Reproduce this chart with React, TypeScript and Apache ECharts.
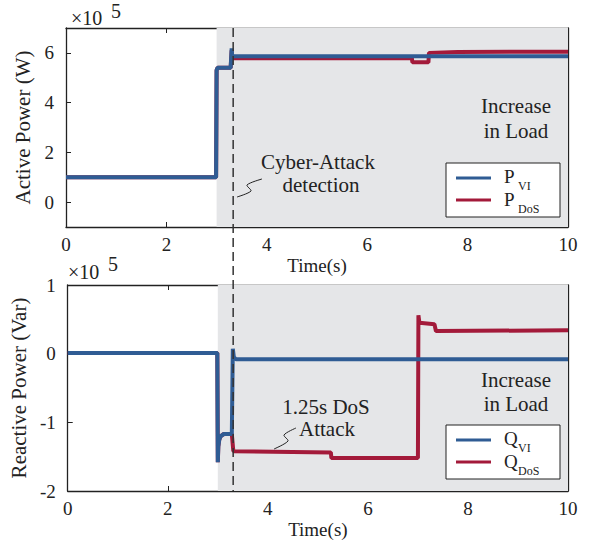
import React, { useEffect, useRef } from "react";
import * as echarts from "echarts";

// ---- Data (values in ×10^5) ----
const pVI_t = [0, 2.99, 3.0, 3.02, 3.28, 3.3, 3.31, 3.34, 10];
const pVI_v = [1.0, 1.0, 5.3, 5.4, 5.4, 6.18, 5.9, 5.86, 5.86];

const pDoS_t = [0, 2.99, 3.0, 3.02, 3.28, 3.3, 3.31, 3.34, 6.89, 6.9, 7.22, 7.23, 7.8, 10];
const pDoS_v = [1.0, 1.0, 5.3, 5.4, 5.4, 6.1, 5.85, 5.78, 5.78, 5.62, 5.62, 6.0, 6.04, 6.05];

const qVI_t = [0, 2.99, 3.0, 3.01, 3.03, 3.06, 3.12, 3.28, 3.3, 3.32, 3.36, 10];
const qVI_v = [0.01, 0.01, -1.58, -1.35, -1.25, -1.2, -1.17, -1.17, 0.07, -0.05, -0.08, -0.08];

const qDoS_t = [0, 2.99, 3.0, 3.01, 3.03, 3.06, 3.12, 3.28, 3.31, 5.26, 5.27, 7.0, 7.01, 7.03, 7.33, 7.36, 10];
const qDoS_v = [0.01, 0.01, -1.58, -1.35, -1.25, -1.2, -1.17, -1.17, -1.42, -1.44, -1.52, -1.52, 0.56, 0.45, 0.43, 0.33, 0.34];

const pTicks = [0, 2, 4, 6];
const qTicks = [-2, -1, 0, 1];
const attackStart = 3.0;
const detectionTime = 3.33;

const FONT = "Liberation Serif";
const BLUE = "#2f5c94";
const RED = "#a31a3a";
const SHADE = "#e5e6e8";
const INK = "#222";

const zip = (t: number[], v: number[]) => t.map((x, i) => [x, v[i]]);

function xAx(grid: number, pos: "bottom" | "top") {
  return {
    type: "value",
    gridIndex: grid,
    position: pos,
    min: 0,
    max: 10,
    interval: 2,
    axisLine: { show: true, onZero: false, lineStyle: { color: INK, width: 1.3 } },
    axisTick: { show: true, inside: true, length: 5, lineStyle: { color: INK } },
    axisLabel: pos === "bottom"
      ? { show: true, fontFamily: FONT, fontSize: 19, color: INK, margin: 8 }
      : { show: false },
    splitLine: { show: false },
    name: pos === "bottom" ? "Time(s)" : "",
    nameLocation: "middle",
    nameGap: 29,
    nameTextStyle: { fontFamily: FONT, fontSize: 19, color: INK },
  };
}

function yAx(grid: number, pos: "left" | "right", min: number, max: number, ticks: number[], name: string) {
  return {
    type: "value",
    gridIndex: grid,
    position: pos,
    min,
    max,
    axisLine: { show: true, onZero: false, lineStyle: { color: INK, width: 1.3 } },
    axisTick: { show: true, inside: true, length: 5, customValues: ticks, lineStyle: { color: INK } },
    axisLabel: pos === "left"
      ? { show: true, customValues: ticks, fontFamily: FONT, fontSize: 19, color: INK, margin: 12 }
      : { show: false, customValues: ticks },
    splitLine: { show: false },
    name: pos === "left" ? name : "",
    nameLocation: "middle",
    nameGap: 30,
    nameTextStyle: { fontFamily: FONT, fontSize: 21, color: INK },
  };
}

function lineSeries(name: string, data: number[][], color: string, axis: number, shade: boolean) {
  const s: any = {
    name,
    type: "line",
    xAxisIndex: axis,
    yAxisIndex: axis,
    data,
    showSymbol: false,
    symbol: "none",
    lineStyle: { color, width: 4 },
    itemStyle: { color },
  };
  if (shade) {
    s.markArea = {
      silent: true,
      itemStyle: { color: SHADE },
      data: [[{ xAxis: attackStart }, { xAxis: 10 }]],
    };
  }
  return s;
}

function legendBox(x: number, y: number, letter: string, sub1: string, sub2: string) {
  const big = { fontFamily: FONT, fontSize: 19, fill: INK, verticalAlign: "middle" };
  const small = { fontFamily: FONT, fontSize: 12, fill: INK, verticalAlign: "middle" };
  return [
    { type: "rect", shape: { x, y, width: 114, height: 54 }, style: { fill: "#fff", stroke: INK, lineWidth: 1 }, z: 50 },
    { type: "line", shape: { x1: x + 10, y1: y + 15, x2: x + 45, y2: y + 15 }, style: { stroke: BLUE, lineWidth: 3 }, z: 51 },
    { type: "line", shape: { x1: x + 10, y1: y + 37, x2: x + 45, y2: y + 37 }, style: { stroke: RED, lineWidth: 3 }, z: 51 },
    { type: "text", x: x + 58, y: y + 13, style: { ...big, text: letter }, z: 51 },
    { type: "text", x: x + 72, y: y + 23, style: { ...small, text: sub1 }, z: 51 },
    { type: "text", x: x + 58, y: y + 36, style: { ...big, text: letter }, z: 51 },
    { type: "text", x: x + 72, y: y + 46, style: { ...small, text: sub2 }, z: 51 },
  ];
}

function txt(x: number, y: number, text: string, size = 20, align = "center") {
  return { type: "text", x, y, style: { text, fontFamily: FONT, fontSize: size, fill: INK, align, verticalAlign: "middle" }, z: 40 };
}

export default function App() {
  const ref = useRef<HTMLDivElement>(null);
  useEffect(() => {
    document.body.style.margin = "0";
    if (!ref.current) return;
    const chart = echarts.init(ref.current, undefined, { renderer: "svg" });
    chart.setOption({
      animation: false,
      grid: [
        { left: 66, right: 27, top: 28, height: 199 },
        { left: 66, right: 27, top: 285, height: 208 },
      ],
      xAxis: [xAx(0, "bottom"), xAx(0, "top"), xAx(1, "bottom"), xAx(1, "top")],
      yAxis: [
        yAx(0, "left", -1, 7, pTicks, "Active Power (W)"),
        yAx(0, "right", -1, 7, pTicks, ""),
        yAx(1, "left", -2, 1, qTicks, "Reactive Power (Var)"),
        yAx(1, "right", -2, 1, qTicks, ""),
      ],
      series: [
        lineSeries("P_DoS", zip(pDoS_t, pDoS_v), RED, 0, true),
        lineSeries("P_VI", zip(pVI_t, pVI_v), BLUE, 0, false),
        lineSeries("Q_DoS", zip(qDoS_t, qDoS_v), RED, 2, true),
        lineSeries("Q_VI", zip(qVI_t, qVI_v), BLUE, 2, false),
      ],
    });
    const dx = chart.convertToPixel({ xAxisIndex: 0 }, detectionTime) as number;
    const yTop = chart.convertToPixel({ yAxisIndex: 0 }, 7) as number;
    const yBot = chart.convertToPixel({ yAxisIndex: 2 }, -2) as number;
    chart.setOption({
      graphic: [
        { type: "line", shape: { x1: dx, y1: yTop, x2: dx, y2: yBot }, style: { stroke: "#333", lineWidth: 1.5, lineDash: [9, 5] }, z: 30 },
        txt(71, 18, "×10", 20, "left"),
        txt(111, 11, "5", 20, "left"),
        txt(68, 272, "×10", 20, "left"),
        txt(108, 264, "5", 20, "left"),
        txt(516, 106, "Increase", 21),
        txt(516, 131, "in Load", 21),
        txt(516, 380, "Increase", 21),
        txt(516, 404, "in Load", 21),
        txt(318, 162, "Cyber-Attack", 21),
        txt(321, 185, "detection", 21),
        txt(326, 407, "1.25s DoS", 21),
        txt(327, 429, "Attack", 21),
        { type: "polyline", shape: { points: [[237, 197], [251, 191], [247, 185], [262, 179]], smooth: 0.3 }, style: { stroke: INK, lineWidth: 1, fill: "none" }, z: 40 },
        { type: "polyline", shape: { points: [[274, 449], [288, 441], [284, 435], [296, 428]], smooth: 0.3 }, style: { stroke: INK, lineWidth: 1, fill: "none" }, z: 40 },
        ...legendBox(446, 163, "P", "VI", "DoS"),
        ...legendBox(446, 425, "Q", "VI", "DoS"),
      ],
    });
    return () => chart.dispose();
  }, []);
  return <div ref={ref} style={{ width: 595, height: 540 }} />;
}
